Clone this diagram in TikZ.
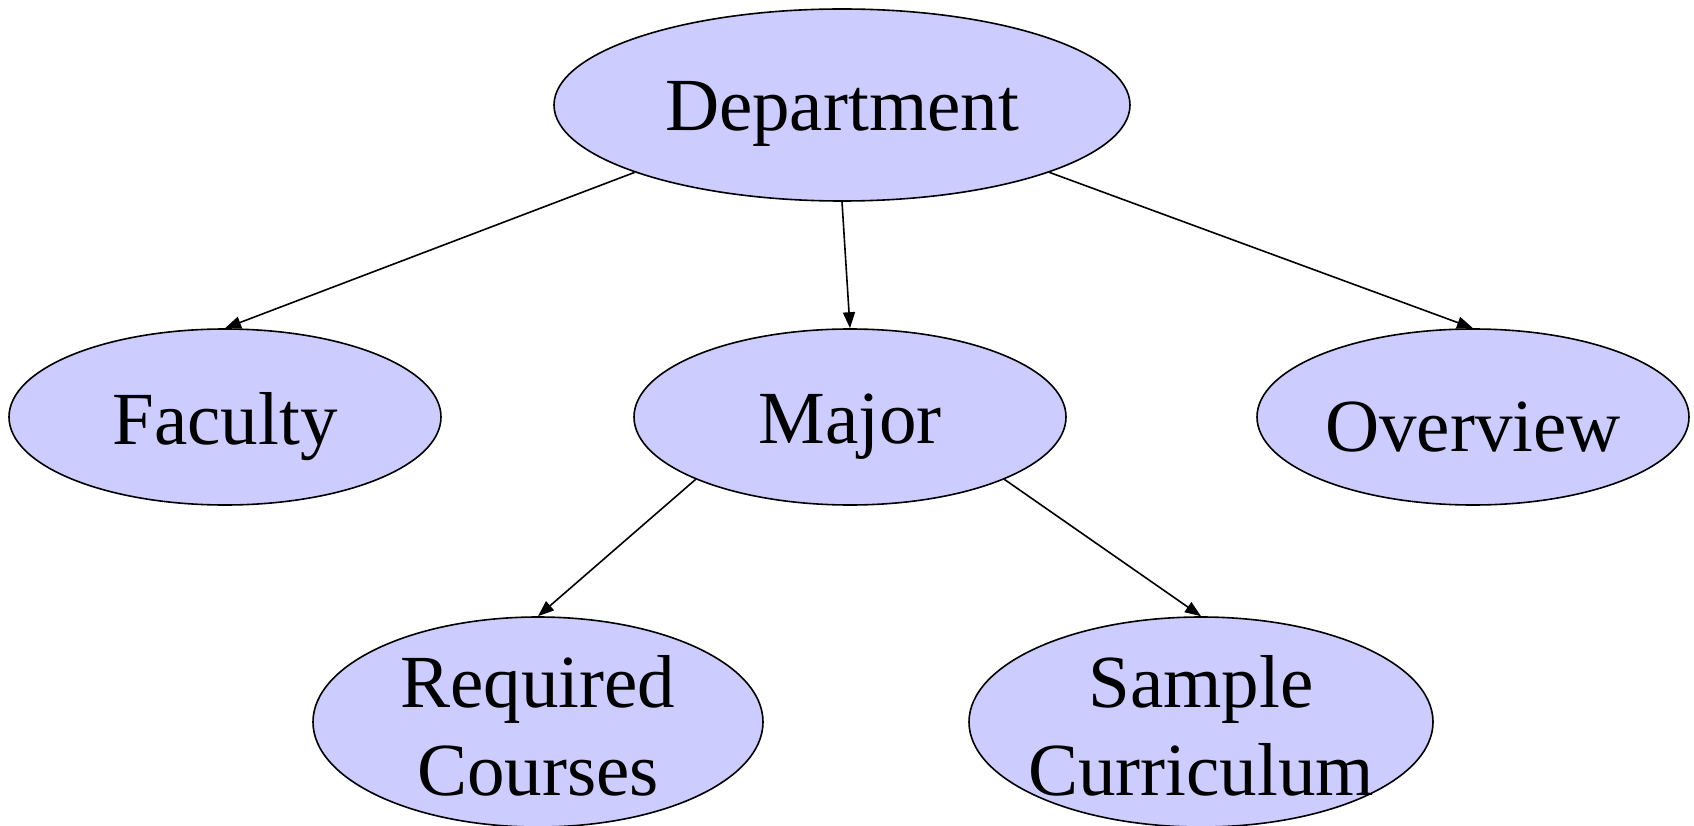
\documentclass[tikz,border=0pt]{standalone}
\usepackage{fontspec}
\setmainfont{Liberation Serif}
\usetikzlibrary{shapes.geometric,arrows.meta}
\definecolor{nodefill}{HTML}{CCCCFF}
\begin{document}
\begin{tikzpicture}[x=1pt,y=-1pt,
  ell/.style={ellipse,draw=black,line width=1.6pt,fill=nodefill,inner sep=0pt},
  lbl/.style={align=center,inner sep=0pt,font=\fontsize{75}{88}\selectfont},
  arr/.style={line width=1.6pt,-{Triangle[length=16pt,width=12pt]}}]
\useasboundingbox (0,0) rectangle (1694,826);
\node[ell,minimum width=576pt,minimum height=192pt,
  label={[lbl,yshift=-9pt]center:Department}] (dep) at (842,105) {};
\node[ell,minimum width=432pt,minimum height=176pt,
  label={[lbl,yshift=-10pt]center:Faculty}] (fac) at (225,417) {};
\node[ell,minimum width=432pt,minimum height=176pt,
  label={[lbl,yshift=-10pt]center:Major}] (maj) at (850,417) {};
\node[ell,minimum width=432pt,minimum height=176pt,
  label={[lbl,yshift=-10pt]center:Overview}] (ove) at (1473,417) {};
\node[ell,minimum width=450pt,minimum height=210pt,
  label={[lbl,yshift=-4pt]center:Required\\Courses}] (req) at (538,722) {};
\node[ell,minimum width=464pt,minimum height=210pt,
  label={[lbl,yshift=-4pt]center:Sample\\Curriculum}] (sam) at (1201,722) {};
\draw[arr] (dep.198) -- (fac.north);
\draw[arr] (dep.south) -- (maj.north);
\draw[arr] (dep.-18) -- (ove.north);
\draw[arr] (maj.202) -- (req.north);
\draw[arr] (maj.-22) -- (sam.north);
\end{tikzpicture}
\end{document}
